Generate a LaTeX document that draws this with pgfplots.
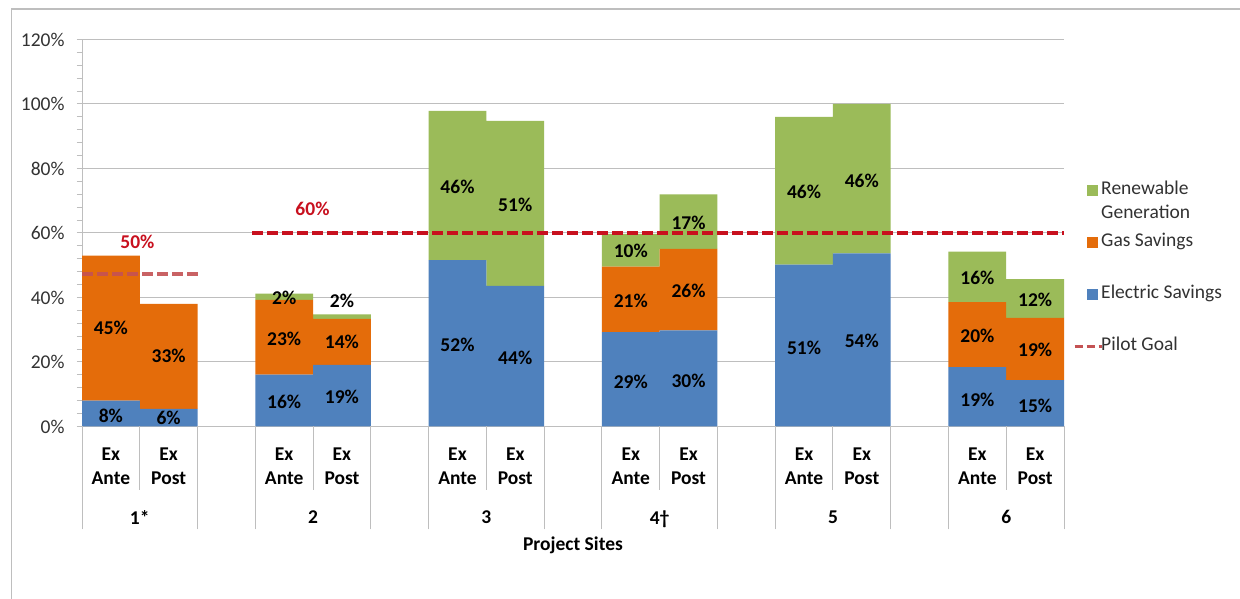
\documentclass[border=0pt]{standalone}
\usepackage{pgfplots}
\usepackage{pgfplotstable}
\pgfplotsset{compat=1.18}
\usepackage{fontspec}
\setmainfont{Carlito}
\definecolor{cblue}{RGB}{79,129,189}
\definecolor{corange}{RGB}{228,108,10}
\definecolor{cgreen}{RGB}{155,187,89}
\definecolor{cred}{RGB}{200,16,30}
\definecolor{cpink}{RGB}{196,82,84}
\definecolor{cgrid}{RGB}{190,190,190}
\definecolor{ctext}{RGB}{50,50,50}
\newcommand{\fs}{\fontsize{19.5}{24}\selectfont}

\pgfplotstableread{
x elec gas ren
0.5 8.0 45.0 0
1.5 5.5 32.5 0
3.5 16.1 23.2 1.9
4.5 19.1 14.3 1.4
6.5 51.6 0 46.3
7.5 43.6 0 51.2
9.5 29.3 20.3 10.1
10.5 29.8 25.3 16.9
12.5 50.2 0 45.8
13.5 53.7 0 46.3
15.5 18.4 20.2 15.6
16.5 14.4 19.3 12.0
}\sitedata

\pgfplotstableread{
x y v
0.5 3.3 8
0.5 30.5 45
1.5 2.6 6
1.5 21.9 33
3.5 7.5 16
3.5 27.1 23
3.5 39.8 2
4.5 9.1 19
4.5 26.1 14
4.5 38.9 2
6.5 25.2 52
6.5 74.2 46
7.5 21.3 44
7.5 68.7 51
9.5 13.8 29
9.5 38.9 21
9.5 54.4 10
10.5 14.2 30
10.5 42.1 26
10.5 63.0 17
12.5 24.4 51
12.5 72.7 46
13.5 26.5 54
13.5 76.3 46
15.5 8.3 19
15.5 28.0 20
15.5 46.0 16
16.5 6.5 15
16.5 23.9 19
16.5 39.2 12
}\labeldata

\pgfplotsset{
  base/.style={
    scale only axis, width=982pt, height=387pt,
    xmin=0, xmax=17, ymin=0, ymax=120,
    at={(82pt,172.5pt)}, anchor=south west,
    clip=false,
  },
}

\begin{document}
\begin{tikzpicture}
\useasboundingbox (0,0) rectangle (1240pt,599pt);
\fill[white] (0,0) rectangle (1240pt,599pt);
\draw[cgrid, line width=1.5pt] (11.5pt,0pt) -- (11.5pt,590pt) -- (1240pt,590pt);

% bars and y axis
\begin{axis}[base, ybar stacked, bar width=1,
  axis x line=bottom, axis y line=left,
  axis line style={cgrid, line width=1pt, -},
  xtick=\empty,
  ytick={0,20,...,120},
  yticklabels={0\%,20\%,40\%,60\%,80\%,100\%,120\%},
  minor y tick num=4,
  ymajorgrids, grid style={cgrid, line width=1pt},
  tick align=outside, tick pos=left,
  major tick length=5pt, minor tick length=5pt,
  ytick style={cgrid, line width=1pt},
  yticklabel style={font=\fs, text=ctext, xshift=-9pt},
]
\addplot[fill=cblue, draw=none] table[x=x, y=elec]{\sitedata};
\addplot[fill=corange, draw=none] table[x=x, y=gas]{\sitedata};
\addplot[fill=cgreen, draw=none] table[x=x, y=ren]{\sitedata};
\end{axis}

% Ex Ante / Ex Post labels
\begin{axis}[base, axis line style={draw=none}, ytick=\empty,
  xtick={0.5,1.5,3.5,4.5,6.5,7.5,9.5,10.5,12.5,13.5,15.5,16.5},
  xticklabels={{Ex\\Ante},{Ex\\Post},{Ex\\Ante},{Ex\\Post},{Ex\\Ante},{Ex\\Post},{Ex\\Ante},{Ex\\Post},{Ex\\Ante},{Ex\\Post},{Ex\\Ante},{Ex\\Post}},
  tick pos=left, major tick length=0pt,
  xticklabel style={font=\fs\bfseries, align=center, anchor=north, yshift=-18pt},
]
\addplot[draw=none, forget plot] coordinates {(0,0)};
\end{axis}

% outer separators
\begin{axis}[base, axis line style={draw=none}, ytick=\empty,
  xtick={0,2,3,5,6,8,9,11,12,14,15,17}, xticklabels={},
  tick align=outside, tick pos=left, major tick length=103pt,
  xtick style={cgrid, line width=1pt},
]
\addplot[draw=none, forget plot] coordinates {(0,0)};
\end{axis}

% inner separators, site labels, axis title
\begin{axis}[base, axis line style={draw=none}, ytick=\empty,
  xtick={1,4,7,10,13,16}, xticklabels={1*,2,3,4†,5,6},
  tick align=outside, tick pos=left, major tick length=63.5pt,
  xtick style={cgrid, line width=1pt},
  xticklabel style={font=\fs\bfseries, anchor=north, yshift=-17pt},
  xlabel={Project Sites},
  xlabel style={font=\fs\bfseries, at={(axis description cs:0.5,-0.306)}, anchor=center},
]
\addplot[draw=none, forget plot] coordinates {(0,0)};
\end{axis}

% goals, value labels, legend
\begin{axis}[base, hide axis,
  legend cell align=left,
  legend style={at={(1.0092,0.6405)}, anchor=north west, draw=none, fill=none,
    inner sep=0pt, font=\fs, text=ctext, row sep=29.5pt,
    nodes={inner sep=2pt, text height=14pt, text depth=4.5pt},
    /tikz/every odd column/.append style={column sep=-4pt}},
]
\addlegendimage{legend image code/.code={\path[draw=none] (-10pt,0pt) -- (17pt,0pt); \fill[cgreen] (2pt,-5pt) rectangle (12pt,5pt);}}
\addlegendentry{\smash{\begin{tabular}[t]{@{}l@{}}Renewable\\Generation\end{tabular}}}
\addlegendimage{legend image code/.code={\path[draw=none] (-10pt,0pt) -- (17pt,0pt); \fill[corange] (2pt,-5pt) rectangle (12pt,5pt);}}
\addlegendentry{Gas Savings}
\addlegendimage{legend image code/.code={\path[draw=none] (-10pt,0pt) -- (17pt,0pt); \fill[cblue] (2pt,-5pt) rectangle (12pt,5pt);}}
\addlegendentry{Electric Savings}
\addlegendimage{legend image code/.code={\draw[cpink, line width=3pt, dash pattern=on 8pt off 4pt] (-10pt,0pt) -- (17pt,0pt);}}
\addlegendentry{Pilot Goal}

\addplot[forget plot, cpink, opacity=0.9, line width=3.5pt, dash pattern=on 10.5pt off 4.5pt] coordinates {(0,47.3) (2.05,47.3)};
\addplot[forget plot, cred, line width=4pt, dash pattern=on 10.5pt off 4.5pt] coordinates {(2.95,60) (17,60)};

\addplot[forget plot, only marks, mark=none, point meta=explicit symbolic,
  nodes near coords={\pgfplotspointmeta\%},
  every node near coord/.append style={anchor=center, font=\fs\bfseries, text=black}]
  table[x=x, y=y, meta=v]{\labeldata};

\addplot[forget plot, only marks, mark=none, point meta=explicit symbolic,
  nodes near coords={\pgfplotspointmeta\%},
  every node near coord/.append style={anchor=center, font=\fs\bfseries, text=cred}]
  coordinates {(0.96,57.4) [50] (3.99,67.4) [60]};
\end{axis}
\end{tikzpicture}
\end{document}
